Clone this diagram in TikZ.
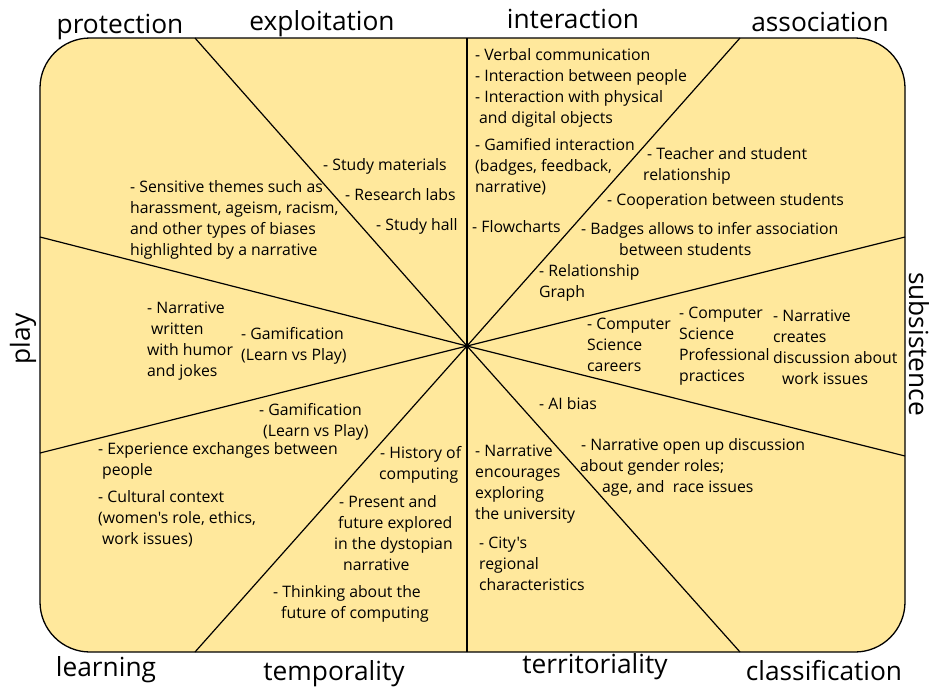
\documentclass[tikz,border=0pt]{standalone}
\usepackage{fontspec}
\newfontfamily\diagfont{Open Sans}
\usepackage{tikz}
\definecolor{panel}{HTML}{FFE89C}
\tikzstyle{item} = [anchor=north west, inner sep=0pt, align=left, font=\diagfont\fontsize{15.8}{21}\selectfont]
\tikzstyle{facet} = [anchor=base, inner sep=0pt, font=\diagfont\fontsize{26.3}{30}\selectfont]
\tikzstyle{ray} = [line width=1.2pt]

\begin{document}
\begin{tikzpicture}[x=1pt, y=-1pt]
    \useasboundingbox (0,0) rectangle (930,689);
    \draw [fill=panel, line width=1.3pt, rounded corners=50pt] (40,38) rectangle (905,652);

    \coordinate (hub) at (467,346);
    \foreach \x/\y in {195/38, 467/38, 740/38, 905/237, 905/456, 740/652, 467/652, 195/652, 40/453, 40/237}
        \draw [ray] (hub) -- (\x,\y);

    % facets round the wheel
    \node (protection) [facet] at (120,33) {protection};
    \node (exploitation) [facet] at (322,30) {exploitation};
    \node (interaction) [facet] at (573,28) {interaction};
    \node (association) [facet] at (820,31) {association};
    \node (subsistence) [facet, rotate=-90] at (909,344) {subsistence};
    \node (classification) [facet] at (824,680) {classification};
    \node (territoriality) [facet] at (595,673) {territoriality};
    \node (temporality) [facet] at (334,680) {temporality};
    \node (learning) [facet] at (106,676) {learning};
    \node (play) [facet, rotate=90] at (30,339) {play};

    % exploitation and protection
    \node (study_materials) [item] at (323,158) {- Study materials};
    \node (research_labs) [item] at (345,188) {- Research labs};
    \node (study_hall) [item] at (376,218) {- Study hall};
    \node (sensitive) [item] at (130,180) {- Sensitive themes such as\\harassment, ageism, racism,\\and other types of biases\\highlighted by a narrative};

    % interaction
    \node (verbal) [item] at (475,48) {- Verbal communication\\- Interaction between people\\- Interaction with physical\\\hspace*{4pt}and digital objects};
    \node (gamified) [item] at (475,138) {- Gamified interaction\\(badges, feedback,\\narrative)};
    \node (flowcharts) [item] at (472,220) {- Flowcharts};

    % association
    \node (teacher) [item] at (643,147) {\hspace*{4pt}- Teacher and student\\relationship};
    \node (cooperation) [item] at (607,193) {- Cooperation between students};
    \node (badges) [item] at (581,222) {- Badges allows to infer association\\\hspace*{38pt}between students};
    \node (graph) [item] at (539,264) {- Relationship\\Graph};

    % subsistence
    \node (careers) [item] at (587,318) {- Computer\\Science\\careers};
    \node (practices) [item] at (679,307) {- Computer\\Science\\Professional\\practices};
    \node (work_issues) [item] at (773,310) {- Narrative\\creates\\discussion about\\\hspace*{9pt}work issues};

    % classification
    \node (ai_bias) [item] at (539,397) {- AI bias};
    \node (gender) [item] at (580,438) {\hspace*{1pt}- Narrative open up discussion\\about gender roles;\\\hspace*{22pt}age, and\ \ race issues};

    % territoriality
    \node (university) [item] at (475,445) {- Narrative\\encourages\\exploring\\the university};
    \node (city) [item] at (479,537) {- City's\\regional\\characteristics};

    % temporality
    \node (history) [item] at (379,446) {\hspace*{1pt}- History of\\computing};
    \node (dystopian) [item] at (334,495) {\hspace*{5pt}- Present and\\\hspace*{4pt}future explored\\in the dystopian\\\hspace*{9pt}narrative};
    \node (thinking) [item] at (273,585) {- Thinking about the\\\hspace*{8pt}future of computing};

    % learning
    \node (gamification_low) [item] at (259,403) {- Gamification\\\hspace*{4pt}(Learn vs Play)};
    \node (experience) [item] at (98,442) {- Experience exchanges between\\\hspace*{4pt}people};
    \node (cultural) [item] at (98,490) {- Cultural context\\(women's role, ethics,\\\hspace*{4pt}work issues)};

    % play
    \node (humor) [item] at (147,302) {- Narrative\\\hspace*{4pt}written\\with humor\\and jokes};
    \node (gamification_up) [item] at (241,327) {- Gamification\\(Learn vs Play)};
\end{tikzpicture}
\end{document}
